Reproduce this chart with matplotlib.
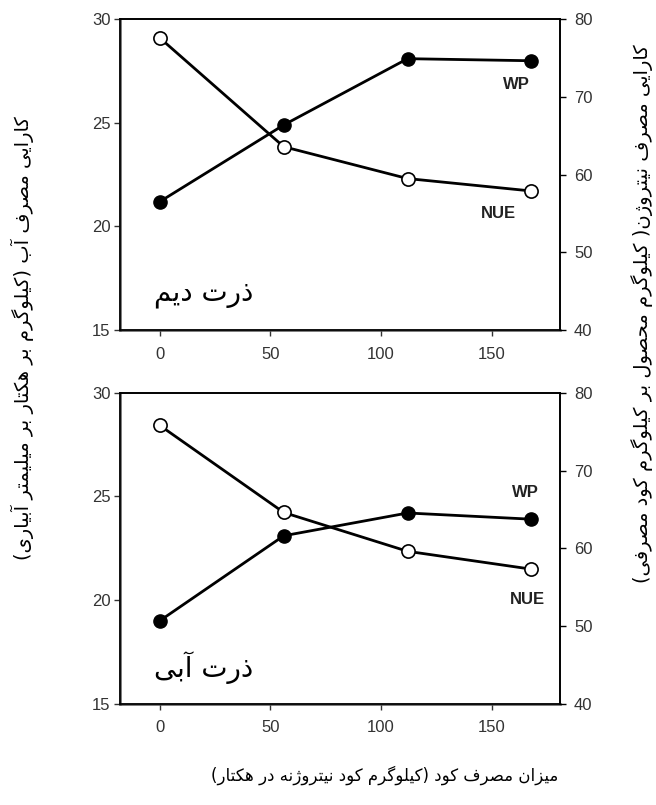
import matplotlib
matplotlib.use('Agg')
import matplotlib.pyplot as plt

# --Datos
n_rate = [0, 56, 112, 168]
wp_dryland = [21.2, 24.9, 28.1, 28.0]
nue_dryland = [77.6, 63.6, 59.5, 57.9]
wp_irrigated = [19.0, 23.1, 24.2, 23.9]
nue_irrigated = [75.8, 64.6, 59.6, 57.3]

panel_titles = ['ذرت دیم', 'ذرت آبی']
ylabel_left = 'کارایی مصرف آب (کیلوگرم بر هکتار بر میلیمتر آبیاری)'
ylabel_right = 'کارایی مصرف نیتروژن( کیلوگرم محصول بر کیلوگرم کود مصرفی)'
xlabel = 'میزان مصرف کود (کیلوگرم کود نیتروژنه در هکتار)'

# --Formas de presentacion arabe/persa: (aislada, final, inicial, media)
FORMS = {
    'ا': ('\uFE8D', '\uFE8E', None, None),
    'آ': ('\uFE81', '\uFE82', None, None),
    'ب': ('\uFE8F', '\uFE90', '\uFE91', '\uFE92'),
    'ت': ('\uFE95', '\uFE96', '\uFE97', '\uFE98'),
    'ح': ('\uFEA1', '\uFEA2', '\uFEA3', '\uFEA4'),
    'د': ('\uFEA9', '\uFEAA', None, None),
    'ذ': ('\uFEAB', '\uFEAC', None, None),
    'ر': ('\uFEAD', '\uFEAE', None, None),
    'ز': ('\uFEAF', '\uFEB0', None, None),
    'ژ': ('\uFB8A', '\uFB8B', None, None),
    'ص': ('\uFEB9', '\uFEBA', '\uFEBB', '\uFEBC'),
    'ف': ('\uFED1', '\uFED2', '\uFED3', '\uFED4'),
    'ل': ('\uFEDD', '\uFEDE', '\uFEDF', '\uFEE0'),
    'م': ('\uFEE1', '\uFEE2', '\uFEE3', '\uFEE4'),
    'ن': ('\uFEE5', '\uFEE6', '\uFEE7', '\uFEE8'),
    'ه': ('\uFEE9', '\uFEEA', '\uFEEB', '\uFEEC'),
    'و': ('\uFEED', '\uFEEE', None, None),
    'ک': ('\uFB8E', '\uFB8F', '\uFB90', '\uFB91'),
    'گ': ('\uFB92', '\uFB93', '\uFB94', '\uFB95'),
    'ی': ('\uFBFC', '\uFBFD', '\uFBFE', '\uFBFF'),
}


def fa(s):
    out = []
    for i, c in enumerate(s):
        if c not in FORMS:
            out.append(c)
            continue
        prev = s[i - 1] if i > 0 else ''
        nxt = s[i + 1] if i + 1 < len(s) else ''
        jp = prev in FORMS and FORMS[prev][2] is not None
        jn = FORMS[c][2] is not None and nxt in FORMS
        f = FORMS[c]
        if jp and jn:
            out.append(f[3])
        elif jp:
            out.append(f[1])
        elif jn:
            out.append(f[2])
        else:
            out.append(f[0])
    vis = ''.join(reversed(out))
    return vis.translate(str.maketrans('()', ')('))


plt.rcParams['font.family'] = ['Liberation Sans', 'DejaVu Sans']

fig = plt.figure(figsize=(6.56, 8.05), dpi=100)
ax_top = fig.add_axes([0.183, 0.590, 0.671, 0.386])
ax_bot = fig.add_axes([0.183, 0.126, 0.671, 0.386])

data = [(wp_dryland, nue_dryland), (wp_irrigated, nue_irrigated)]
lab_pos = [((0.90, 0.79), (0.86, 0.375)), ((0.92, 0.68), (0.925, 0.335))]

for k, ax in enumerate([ax_top, ax_bot]):
    wp, nue = data[k]
    ax2 = ax.twinx()
    ax.plot(n_rate, wp, color='black', lw=2, marker='o', ms=9.5,
            mfc='black', mec='black', zorder=3)
    ax2.plot(n_rate, nue, color='black', lw=2, marker='o', ms=9.5,
             mfc='white', mec='black', mew=1.2, zorder=3)
    ax.set_xlim(-18, 181)
    ax.set_ylim(15, 30)
    ax2.set_ylim(40, 80)
    ax.set_xticks([0, 50, 100, 150])
    ax.set_yticks([15, 20, 25, 30])
    ax2.set_yticks([40, 50, 60, 70, 80])
    for a in (ax, ax2):
        a.tick_params(labelsize=12, colors='#333333', length=4, width=1)
        for s in a.spines.values():
            s.set_color('black')
            s.set_linewidth(1.2)
    ax.spines['left'].set_color('#555555')
    ax.spines['left'].set_linewidth(1.8)
    ax.spines['bottom'].set_color('#555555')
    ax.spines['bottom'].set_linewidth(1.8)
    ax.tick_params(axis='x', pad=8)
    ax.tick_params(axis='y', pad=3)
    ax2.tick_params(axis='y', pad=6, color='black')
    ax.text(0.19, 0.115, fa(panel_titles[k]), transform=ax.transAxes,
            fontsize=20, family='DejaVu Sans', ha='center', va='center')
    (wx, wy), (nx, ny) = lab_pos[k]
    ax.text(wx, wy, 'WP', transform=ax.transAxes, fontsize=12,
            fontweight='bold', ha='center', va='center', color='#222222')
    ax.text(nx, ny, 'NUE', transform=ax.transAxes, fontsize=12,
            fontweight='bold', ha='center', va='center', color='#222222')

fig.text(0.034, 0.58, fa(ylabel_left), rotation=90, fontsize=14,
         family='DejaVu Sans', ha='center', va='center')
fig.text(0.979, 0.611, fa(ylabel_right), rotation=90, fontsize=14,
         family='DejaVu Sans', ha='center', va='center')
fig.text(0.587, 0.037, fa(xlabel), fontsize=12, family='DejaVu Sans',
         ha='center', va='center')

fig.savefig('out.png', dpi=100)
